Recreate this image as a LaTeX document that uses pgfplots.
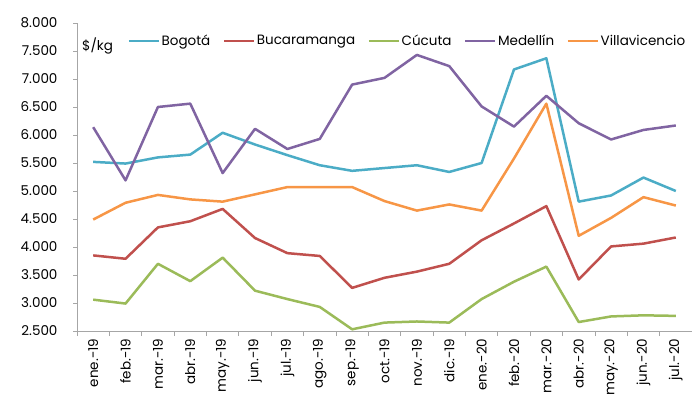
\documentclass[border=0pt]{standalone}
\usepackage{pgfplots}
\pgfplotsset{compat=1.18}
\usepackage{fontspec}
\setmainfont{Poppins}
\definecolor{cBog}{HTML}{4BACC6}
\definecolor{cBuc}{HTML}{C0504D}
\definecolor{cCuc}{HTML}{9BBB59}
\definecolor{cMed}{HTML}{8064A2}
\definecolor{cVil}{HTML}{F79646}
\begin{document}
\begin{tikzpicture}
\begin{axis}[
  at={(77pt,70pt)}, anchor=south west,
  scale only axis,
  width=615pt, height=308pt,
  xmin=-0.5, xmax=18.5,
  ymin=2500, ymax=8000,
  ytick={2500,3000,...,8000},
  xtick={0,...,18},
  xticklabels={ene.-19,feb.-19,mar.-19,abr.-19,may.-19,jun.-19,jul.-19,ago.-19,sep.-19,oct.-19,nov.-19,dic.-19,ene.-20,feb.-20,mar.-20,abr.-20,may.-20,jun.-20,jul.-20},
  x tick label style={rotate=90, anchor=east, font=\fontsize{13.5}{13.5}\selectfont},
  y tick label style={font=\fontsize{13.5}{13.5}\selectfont, xshift=-12pt},
  minor xtick={-0.5,0.5,...,18.5},
  major x tick style={draw=none},
  minor x tick style={gray!70, thick},
  y tick style={gray!70, thick},
  tick align=outside,
  major tick length=4pt, minor tick length=5pt,
  axis x line*=bottom, axis y line*=left,
  axis line style={gray!70, thick, -},
  /pgf/number format/.cd, use comma, 1000 sep={.}, fixed, assume math mode=true,
  /pgfplots/.cd,
  legend columns=5,
  legend style={draw=none, fill=none, at={(0.082,0.975)}, anchor=north west,
    font=\fontsize{13.5}{13.5}\selectfont, inner xsep=0pt,
    nodes={inner xsep=1.5pt},
    /tikz/every even column/.append style={column sep=11pt}},
  legend image code/.code={\draw[#1, line width=2.5pt] (0pt,0pt) -- (30pt,0pt);},
  every axis plot/.append style={line width=2.5pt, line join=round},
  clip=false,
]
\addplot[cBog] coordinates {(0,5520)(1,5490)(2,5600)(3,5650)(4,6040)(5,5830)(6,5640)(7,5460)(8,5360)(9,5410)(10,5460)(11,5340)(12,5500)(13,7170)(14,7370)(15,4810)(16,4920)(17,5240)(18,5000)};
\addlegendentry{Bogotá}
\addplot[cBuc] coordinates {(0,3850)(1,3790)(2,4350)(3,4460)(4,4680)(5,4160)(6,3890)(7,3840)(8,3270)(9,3450)(10,3560)(11,3700)(12,4120)(13,4420)(14,4730)(15,3420)(16,4010)(17,4060)(18,4170)};
\addlegendentry{Bucaramanga}
\addplot[cCuc] coordinates {(0,3060)(1,2990)(2,3700)(3,3390)(4,3810)(5,3220)(6,3070)(7,2930)(8,2530)(9,2650)(10,2670)(11,2650)(12,3070)(13,3380)(14,3650)(15,2660)(16,2760)(17,2780)(18,2770)};
\addlegendentry{Cúcuta}
\addplot[cMed] coordinates {(0,6140)(1,5190)(2,6500)(3,6560)(4,5320)(5,6110)(6,5750)(7,5930)(8,6900)(9,7020)(10,7430)(11,7230)(12,6510)(13,6150)(14,6700)(15,6210)(16,5920)(17,6090)(18,6170)};
\addlegendentry{Medellín}
\addplot[cVil] coordinates {(0,4490)(1,4790)(2,4930)(3,4850)(4,4810)(5,4940)(6,5070)(7,5070)(8,5070)(9,4820)(10,4650)(11,4760)(12,4650)(13,5580)(14,6560)(15,4200)(16,4520)(17,4890)(18,4740)};
\addlegendentry{Villavicencio}
\node[anchor=west, font=\fontsize{13.5}{13.5}\selectfont, inner sep=0pt] at (rel axis cs:0.008,0.926) {\$/kg};
\end{axis}
\pgfresetboundingbox
\useasboundingbox (0,0) rectangle (692pt,401pt);
\end{tikzpicture}
\end{document}
